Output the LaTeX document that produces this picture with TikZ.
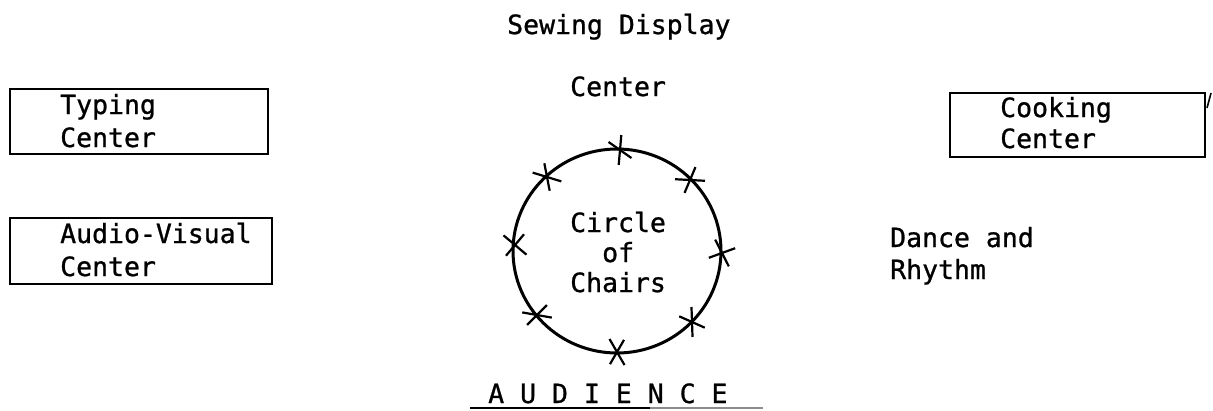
\documentclass[tikz,border=0pt]{standalone}
\usepackage{fontspec}
\setmonofont{DejaVu Sans Mono}
\newfontfamily\twfont[FakeBold=0.9]{DejaVu Sans Mono}
\begin{document}
\begin{tikzpicture}[x=1pt,y=-1pt,
  lbl/.style={anchor=base west,inner sep=0pt,font=\twfont\fontsize{26.5}{30}\selectfont},
  ctrbox/.style={draw,line width=2.6pt},
  chairmark/.style={line width=2.2pt}]
\useasboundingbox (0,0) rectangle (1213,410);
\fill[white] (0,0) rectangle (1213,410);
% Sewing display
\node[lbl] (sew1) at (507,34) {Sewing Display};
\node[lbl] (sew2) at (570,96) {Center};
% Typing
\draw[ctrbox] (10,89) rectangle (268,154);
\node[lbl] (typ1) at (60,114) {Typing};
\node[lbl] (typ2) at (60,147) {Center};
% Audio-visual
\draw[ctrbox] (10,218) rectangle (272,284);
\node[lbl] (av1) at (60,243) {Audio-Visual};
\node[lbl] (av2) at (60,276) {Center};
% Cooking
\draw[ctrbox] (950,93) rectangle (1205,157);
\node[lbl] (cook1) at (1000,117) {Cooking};
\node[lbl] (cook2) at (1000,148) {Center};
\draw[line width=1.6pt] (1207,108) -- (1211,93);
% Dance
\node[lbl] (dan1) at (890,247) {Dance and};
\node[lbl] (dan2) at (890,279) {Rhythm};
% Circle of chairs
\draw[line width=3pt] (617,251) ellipse [x radius=104, y radius=102];
\node[lbl] (cc1) at (570,232) {Circle};
\node[lbl] (cc2) at (602,262) {of};
\node[lbl] (cc3) at (570,292) {Chairs};
\foreach \px/\py/\a/\b in {620/150/95/35, 547/177/17/79, 690/180/3/113, 515/245/40/130,
  722/253/63/160, 537/315/10/135, 692/322/88/24, 617/352/60/120}{
  \draw[chairmark] ([shift={(\a:15)}]\px,\py) -- ([shift={(\a+180:15)}]\px,\py);
  \draw[chairmark] ([shift={(\b:14)}]\px,\py) -- ([shift={(\b+180:14)}]\px,\py);
}
% Audience
\node[lbl] (aud) at (488,403) {A U D I E N C E};
\draw[line width=1.8pt] (470,408) -- (650,408);
\draw[line width=1.8pt,black!45] (650,408) -- (763,408);
\end{tikzpicture}
\end{document}
